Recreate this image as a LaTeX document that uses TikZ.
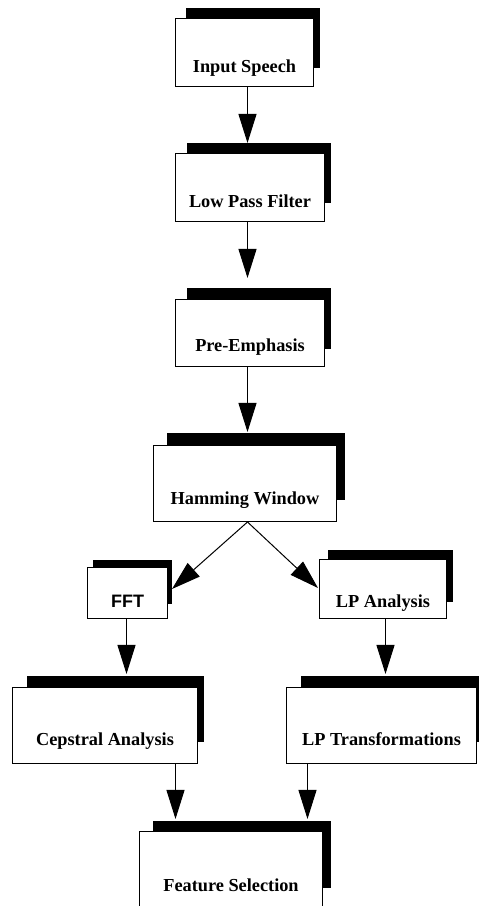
\documentclass[tikz,border=0pt]{standalone}
\usepackage{fontspec}
\setmainfont{Liberation Serif}
\newfontfamily\helvfont{Liberation Sans}
\usetikzlibrary{arrows.meta,backgrounds}
\tikzset{
  block/.style={draw,fill=white,line width=1pt,inner sep=0pt,anchor=south west,
    font=\fontsize{18.3}{22}\selectfont\bfseries},
  shadowbar/.style={fill=black},
  arr/.style={line width=1pt,-{Triangle[length=29pt,width=18pt]}}
}
\begin{document}
\begin{tikzpicture}[x=1pt,y=1pt]
                \useasboundingbox (0,0) rectangle (479,906);
                \clip (0,0) rectangle (479,906);
                \node[block,minimum width=138pt,text height=54pt,text depth=14pt] (is) at (175,819) {Input Speech};
                \node[block,minimum width=149pt,text height=54pt,text depth=14pt] (lpf) at (175,684) {Low Pass Filter};
                \node[block,minimum width=149pt,text height=52pt,text depth=15pt] (pe) at (175,539) {Pre-Emphasis};
                \node[block,minimum width=183pt,text height=59pt,text depth=17pt] (hw) at (153,384) {Hamming Window};
                \node[block,minimum width=80pt,text height=40pt,text depth=11pt,font=\fontsize{18}{22}\selectfont\helvfont\bfseries] (fft) at (87,287) {FFT};
                \node[block,minimum width=127pt,text height=48pt,text depth=11pt] (lpa) at (319,287) {LP Analysis};
                \node[block,minimum width=185pt,text height=58pt,text depth=18pt] (cep) at (12,142) {Cepstral Analysis};
                \node[block,minimum width=190pt,text height=58pt,text depth=18pt] (lpt) at (286,142) {LP Transformations};
                \node[block,minimum width=183pt,text height=60pt,text depth=16pt] (fs) at (139,-2) {Feature Selection};
                \begin{pgfonlayer}{background}
                    \fill[shadowbar] ([shift={(11,10)}]is.north west) rectangle ([shift={(6,19)}]is.south east);
                    \fill[shadowbar] ([shift={(12,10)}]lpf.north west) rectangle ([shift={(6,19)}]lpf.south east);
                    \fill[shadowbar] ([shift={(12,11)}]pe.north west) rectangle ([shift={(6,18)}]pe.south east);
                    \fill[shadowbar] ([shift={(14,12)}]hw.north west) rectangle ([shift={(8,22)}]hw.south east);
                    \fill[shadowbar] ([shift={(6,7)}]fft.north west) rectangle ([shift={(4,15)}]fft.south east);
                    \fill[shadowbar] ([shift={(9,9)}]lpa.north west) rectangle ([shift={(6,17)}]lpa.south east);
                    \fill[shadowbar] ([shift={(15,11)}]cep.north west) rectangle ([shift={(6,22)}]cep.south east);
                    \fill[shadowbar] ([shift={(15,11)}]lpt.north west) rectangle ([shift={(6,22)}]lpt.south east);
                    \fill[shadowbar] ([shift={(14,10)}]fs.north west) rectangle ([shift={(8,20)}]fs.south east);
                \end{pgfonlayer}
                \draw[arr] ([xshift=3pt]is.south) -- ([xshift=-2.5pt,yshift=10pt]lpf.north);
                \draw[arr] ([xshift=-2.5pt]lpf.south) -- ([xshift=-2.5pt,yshift=21pt]pe.north);
                \draw[arr] ([xshift=-2.5pt]pe.south) -- ([xshift=2.5pt,yshift=13pt]hw.north);
                \draw[arr] ([xshift=2.5pt]hw.south) -- ([shift={(4,30)}]fft.south east);
                \draw[arr] ([xshift=2.5pt]hw.south) -- ([shift={(-1,31)}]lpa.south west);
                \draw[arr] ([xshift=-1pt]fft.south) -- ([xshift=21.5pt,yshift=13pt]cep.north);
                \draw[arr] ([xshift=2.5pt]lpa.south) -- ([xshift=4pt,yshift=13pt]lpt.north);
                \draw[arr] ([xshift=70.5pt]cep.south) -- ([xshift=-55.5pt,yshift=12pt]fs.north);
                \draw[arr] ([xshift=-74pt]lpt.south) -- ([xshift=76.5pt,yshift=12pt]fs.north);
\end{tikzpicture}
\end{document}
